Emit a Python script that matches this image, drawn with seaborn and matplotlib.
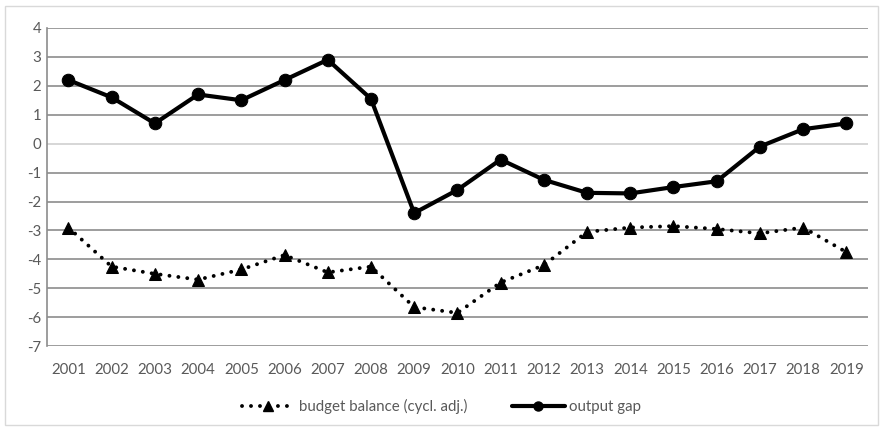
import matplotlib
matplotlib.use("Agg")
import matplotlib.pyplot as plt
import seaborn as sns
import pandas as pd
from matplotlib.lines import Line2D
from matplotlib.patches import Rectangle

years = list(range(2001, 2020))
output_gap = [2.2, 1.6, 0.7, 1.7, 1.5, 2.2, 2.9, 1.55, -2.4, -1.6, -0.55, -1.25,
              -1.7, -1.72, -1.5, -1.3, -0.1, 0.5, 0.7]
budget_balance = [-2.9, -4.25, -4.5, -4.7, -4.35, -3.85, -4.45, -4.25, -5.65, -5.85,
                  -4.8, -4.2, -3.05, -2.9, -2.85, -2.95, -3.1, -2.9, -3.75]
series_names = ["budget balance (cycl. adj.)", "output gap"]
y_ticks = list(range(-7, 5))

sns.set_theme(style="white")
plt.rcParams['font.family'] = ['Lato', 'DejaVu Sans']
plt.rcParams['axes.unicode_minus'] = False

df = pd.DataFrame({"year": years, series_names[0]: budget_balance, series_names[1]: output_gap})

fig = plt.figure(figsize=(8.83, 4.30), dpi=100)
fig.patches.append(Rectangle((0.006, 0.012), 0.988, 0.975, transform=fig.transFigure,
                             fill=False, edgecolor="#d9d9d9", linewidth=1))
ax = fig.add_axes([0.053, 0.195, 0.930, 0.740])

txt = "#595959"
for y in y_ticks:
    ax.axhline(y, color="#8c8c8c" if y != 0 else "#d0d0d0", linewidth=1.2, zorder=0)

sns.lineplot(data=df, x="year", y=series_names[1], ax=ax, color="black", linewidth=3,
             marker="o", markersize=9, markeredgecolor="black", zorder=3)
sns.lineplot(data=df, x="year", y=series_names[0], ax=ax, color="black", linewidth=2.8,
             marker="^", markersize=8, markeredgecolor="black", zorder=3)
line_b = ax.lines[-1]
line_b.set_dashes([0.01, 2.3])
line_b.set_dash_capstyle("round")

ax.set_xlim(2000.5, 2019.5)
ax.set_ylim(-7, 4)
ax.set_xticks(years)
ax.set_xticklabels([str(y) for y in years])
ax.set_yticks(y_ticks)
ax.set_yticklabels([str(y) for y in y_ticks])
ax.set_xlabel("")
ax.set_ylabel("")
ax.tick_params(axis="both", colors=txt, labelsize=10.8, length=0)
ax.tick_params(axis="x", pad=12)
ax.tick_params(axis="y", pad=4)
for s in ["top", "right", "bottom"]:
    ax.spines[s].set_visible(False)
ax.spines["left"].set_color("#8c8c8c")
ax.spines["left"].set_linewidth(1.2)

h1 = Line2D([], [], color="black", linewidth=2.8, marker="^", markersize=6.5,
            dashes=[0.01, 2.3], dash_capstyle="round")
h2 = Line2D([], [], color="black", linewidth=3, marker="o", markersize=6.5)
leg = fig.legend([h1, h2], series_names, loc="center", bbox_to_anchor=(0.5, 0.055),
                 ncol=2, frameon=False, fontsize=10.8, handlelength=3.5,
                 columnspacing=3, handletextpad=0.3)
for t in leg.get_texts():
    t.set_color(txt)

fig.savefig("out.png", dpi=100)
